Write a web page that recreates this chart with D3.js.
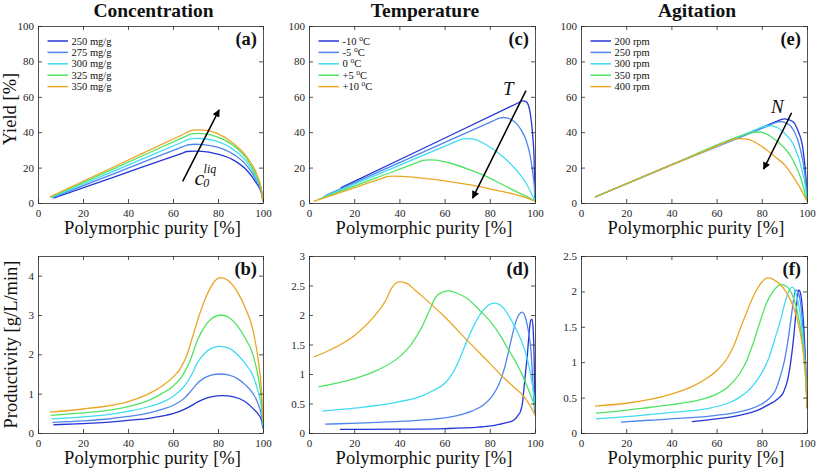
<!DOCTYPE html>
<html><head><meta charset="utf-8">
<script src="https://cdn.jsdelivr.net/npm/d3@7"></script>
<style>
body{margin:0;background:#fff}
svg{display:block}
text{font-family:"Liberation Serif","Times New Roman",serif;}
</style>
</head><body>
<svg id="chart" width="817" height="475"></svg>
<script>
// ---------- categories / labels ----------
const panelTitles = ["Concentration", "Temperature", "Agitation"];
const panelLetters = ["(a)", "(b)", "(c)", "(d)", "(e)", "(f)"];
const concLabels = ["250 mg/g", "275 mg/g", "300 mg/g", "325 mg/g", "350 mg/g"];
const tempLabels = ["-10", "-5", "0", "+5", "+10"];
const agitLabels = ["200 rpm", "250 rpm", "300 rpm", "350 rpm", "400 rpm"];
const seriesColors = ["#2436d6", "#4f86ec", "#3fdcf2", "#4fe462", "#eaa624"];

// ---------- tick labels ----------
const xTicks = [0, 20, 40, 60, 80, 100];
const yieldTicks = [0, 20, 40, 60, 80, 100];
const prodTicksB = [0, 1, 2, 3, 4];
const prodTicksD = [0, 0.5, 1, 1.5, 2, 2.5, 3];
const prodTicksF = [0, 0.5, 1, 1.5, 2, 2.5];

// ---------- (a) yield vs purity, concentration ----------
const yieldC250 = [[6.9,2.8],[35,15.2],[64,28.1],[66.3,29.1],[69.5,29.35],[73,29.2],[79.3,27.8],[86.7,24.4],[92.6,18.8],[97,11.3],[99.3,5.6],[100,1]];
const yieldC275 = [[6.4,3.0],[35,17.2],[64.5,31.8],[66.8,32.9],[70,33.2],[73.5,33.0],[79.3,31.7],[86.7,27.6],[92.6,21.4],[97,12.9],[99.3,6.3],[100,1]];
const yieldC300 = [[6.0,3.1],[35,18.7],[65,34.9],[67.2,36.1],[70.5,36.5],[74,36.3],[79.3,34.9],[86.7,30.3],[92.6,23.5],[97,14.2],[99.3,6.9],[100,1]];
const yieldC325 = [[5.6,3.3],[35,20.1],[65.5,37.6],[67.8,38.9],[71,39.3],[74.5,39.1],[79.3,37.5],[86.7,32.6],[92.6,25.3],[97,15.3],[99.3,7.4],[100,1]];
const yieldC350 = [[5.2,3.4],[35,21.2],[66,39.7],[68.2,41.0],[71.5,41.3],[75,41.0],[79.3,39.5],[86.7,33.8],[92.6,26.3],[97,16.9],[99.3,7.5],[100,1]];

// ---------- (b) productivity, concentration ----------
const prodC250 = [[6.9,0.21],[20,0.24],[30,0.27],[40,0.32],[50,0.38],[55,0.43],[60,0.49],[65,0.6],[68,0.69],[71,0.79],[74,0.87],[77,0.92],[82,0.95],[87,0.92],[92,0.8],[95.6,0.62],[98,0.47],[99.3,0.33],[100,0.12]];
const prodC275 = [[6.4,0.27],[20,0.31],[30,0.35],[40,0.42],[50,0.52],[55,0.6],[60,0.7],[65,0.88],[68,1.07],[71,1.27],[74,1.4],[77,1.47],[81,1.5],[85,1.47],[89,1.37],[92,1.23],[95.6,1.0],[98,0.72],[99.3,0.45],[100,0.15]];
const prodC300 = [[6.0,0.36],[20,0.41],[30,0.46],[40,0.55],[50,0.68],[55,0.78],[60,0.93],[65,1.19],[68,1.45],[71,1.8],[74,2.02],[77,2.15],[81,2.2],[85,2.15],[89,1.97],[92,1.77],[95.6,1.45],[98,1.02],[99.3,0.65],[100,0.2]];
const prodC325 = [[5.6,0.45],[20,0.51],[30,0.57],[40,0.67],[50,0.85],[55,1.0],[60,1.19],[65,1.53],[68,1.9],[71,2.38],[74,2.7],[77,2.9],[81.5,3.0],[85,2.93],[89,2.7],[92,2.42],[95.6,1.98],[98,1.38],[99.3,0.85],[100,0.25]];
const prodC350 = [[5.2,0.53],[20,0.61],[30,0.68],[40,0.8],[50,1.02],[55,1.19],[60,1.42],[63,1.62],[66,1.95],[69,2.5],[72,3.05],[75,3.5],[78,3.82],[81,3.95],[85,3.85],[89,3.55],[92,3.2],[95.6,2.6],[98,1.8],[99.3,1.1],[100,0.3]];

// ---------- (c) yield, temperature ----------
const yieldTm10 = [[14,8.5],[50,30.5],[92,56.2],[94.5,57.7],[96,57.3],[97,55.5],[98,50],[99,38],[99.6,25],[100,3]];
const yieldTm5  = [[7,4.0],[45,25.6],[81,46.1],[84.2,47.9],[86,48.3],[88,48],[91.6,45.1],[94,41],[96,35.7],[98.2,24.4],[99.2,15],[99.7,9.4],[100,1.5]];
const yieldT0   = [[6,3.2],[40,21.3],[65,34.7],[67.7,36.1],[70.3,36.4],[73,36.1],[78.4,32.9],[85.7,26.3],[91.6,18.8],[96,11.3],[99,3.8],[100,1]];
const yieldTp5  = [[4,1.9],[30,14.3],[48,22.9],[50.4,24.1],[53,24.4],[56,24.2],[62.2,22.6],[71,18.8],[78.4,15],[85.7,10.3],[93.1,5.6],[97,3.2],[100,1]];
const yieldTp10 = [[2,0.9],[20,8.6],[33,14.2],[34.9,15],[37.5,15.2],[41,15.0],[50,14.0],[60,12.5],[70,10.5],[80,8.0],[90,5.2],[96,3.0],[100,1]];

// ---------- (d) productivity, temperature ----------
const prodTm10 = [[13.7,0.06],[40,0.065],[60,0.075],[75,0.1],[82,0.13],[87,0.17],[90.7,0.22],[92.5,0.3],[93.7,0.38],[94.5,0.52],[95.1,0.75],[95.8,1.02],[96.6,1.31],[97.3,1.65],[98.1,1.91],[98.7,1.93],[99.2,1.75],[99.6,1.3],[100,0.45]];
const prodTm5  = [[7.1,0.15],[25,0.17],[42,0.2],[55,0.235],[65,0.29],[72,0.37],[77,0.47],[81,0.62],[84,0.82],[86.5,1.1],[89,1.5],[91,1.82],[92.8,2.0],[94.3,2.05],[95.8,1.95],[97.2,1.7],[98.2,1.4],[99,0.9],[99.6,0.5],[100,0.3]];
const prodT0   = [[5.9,0.37],[20,0.42],[40,0.53],[50,0.63],[55,0.72],[60,0.84],[63,0.98],[66,1.2],[70,1.57],[74,1.9],[78,2.12],[82,2.2],[86,2.12],[90,1.88],[93,1.65],[95.5,1.4],[97.5,1.1],[99,0.78],[100,0.5]];
const prodTp5  = [[4.1,0.78],[20,0.92],[30,1.06],[40,1.29],[45,1.49],[50,1.8],[53,2.05],[56,2.3],[60,2.4],[62,2.41],[66,2.36],[70,2.28],[76,2.06],[80,1.9],[85,1.63],[88,1.43],[92,1.17],[95,0.93],[98,0.65],[100,0.45]];
const prodTp10 = [[2.2,1.29],[10,1.42],[20,1.65],[30,2.03],[34,2.25],[36.5,2.45],[40,2.56],[43,2.54],[47,2.42],[50,2.32],[60,1.97],[70,1.57],[80,1.18],[85,0.98],[90,0.8],[95,0.62],[98,0.45],[100,0.3]];

// ---------- (e) yield, agitation ----------
const yieldN200 = [[6.2,3.4],[40,21.5],[86,45.8],[88.5,47.1],[90,47.5],[91.5,47.3],[93,46.5],[94.4,45.1],[95.8,41.5],[97,37.5],[97.9,33],[98.8,24.4],[99.3,18],[99.7,11],[100,2]];
const yieldN250 = [[6.2,3.4],[40,21.5],[82,43.2],[85.5,45.1],[87.5,45.9],[89,46],[91,45],[92.9,43.2],[94.5,40],[95.9,35.7],[97.1,30],[98.1,24.4],[99,17],[99.6,9.4],[100,2]];
const yieldN300 = [[6.2,3.4],[40,21.5],[77,41.2],[80,42.8],[82.5,43.5],[84.5,43.6],[87,42.5],[89.3,40.4],[91.5,37.5],[93.7,33.8],[95.3,29],[96.6,24.4],[97.8,18.5],[98.8,13.2],[99.5,7.5],[100,1.5]];
const yieldN350 = [[6.2,3.4],[40,21.5],[70,37.6],[74,39.2],[76.5,39.9],[79,40.1],[82,39.1],[84.9,36.7],[88,33.6],[90.7,30.1],[93,26],[95.1,20.7],[97,15],[98.1,10.3],[99.6,2.8],[100,1]];
const yieldN400 = [[6.2,3.4],[40,21.5],[65,34.8],[67.2,36],[70.5,36.4],[74,35.9],[78,33.6],[82,30.1],[86,26],[90.7,20.7],[94,14.6],[96.6,9.4],[98.5,4.8],[100,1]];

// ---------- (f) productivity, agitation ----------
const prodN200 = [[49,0.16],[60,0.2],[70,0.25],[78,0.32],[83,0.4],[87,0.48],[89.5,0.57],[91.5,0.76],[93,1.05],[94.2,1.38],[95.1,1.7],[95.8,1.92],[96.4,2.02],[97.1,1.98],[98,1.75],[99,1.25],[99.6,0.8],[100,0.35]];
const prodN250 = [[17.7,0.155],[30,0.18],[45,0.21],[60,0.25],[70,0.3],[75,0.34],[80,0.41],[83,0.48],[86,0.6],[88,0.78],[90,1.02],[91.8,1.35],[93.2,1.68],[94.4,1.95],[95.2,2.02],[96.2,1.98],[97.3,1.8],[98.5,1.35],[99.5,0.8],[100,0.45]];
const prodN300 = [[6.6,0.2],[20,0.23],[40,0.29],[55,0.34],[65,0.42],[70,0.5],[75,0.63],[80,0.85],[83,1.05],[86,1.35],[88.5,1.62],[90.5,1.87],[92.5,2.04],[93.5,2.06],[95,1.98],[96.5,1.78],[98,1.4],[99.3,0.9],[100,0.45]];
const prodN350 = [[6.6,0.28],[20,0.32],[30,0.36],[40,0.4],[50,0.45],[55,0.49],[60,0.55],[65,0.65],[70,0.83],[73,1.0],[76,1.25],[79,1.55],[82,1.83],[85,2.0],[88.5,2.1],[91,2.07],[93.5,1.95],[95.5,1.75],[97.5,1.4],[99,0.95],[100,0.45]];
const prodN400 = [[6.2,0.38],[20,0.42],[30,0.47],[40,0.55],[50,0.67],[55,0.76],[60,0.88],[65,1.07],[68,1.26],[71,1.52],[74,1.76],[77,1.98],[80,2.13],[82.5,2.19],[85,2.17],[88,2.1],[91,1.98],[94,1.78],[96.5,1.5],[98.5,1.1],[99.5,0.75],[100,0.35]];

// ---------- annotations (data coords) ----------
const arrowA = [[64.3, 12.2], [80.5, 52.6]];
const arrowC = [[96, 63.5], [72.4, 2.8]];
const arrowE = [[93.2, 51], [80.8, 19.1]];

// ---------- layout ----------
const svg = d3.select("#chart");
const cols = [[38, 263], [309, 535], [581, 807]];
const rows = [[26, 203], [256, 433]];
const serif = '"Liberation Serif","Times New Roman",serif';
const ink = "#262626";

const defs = svg.append("defs");
defs.append("marker").attr("id", "ah").attr("viewBox", "0 0 10 10")
  .attr("refX", 9).attr("refY", 5).attr("markerWidth", 11).attr("markerHeight", 7.5)
  .attr("markerUnits", "userSpaceOnUse").attr("orient", "auto")
  .append("path").attr("d", "M0,0 L10,5 L0,10 Z").attr("fill", "#000");

const panels = [
  {col:0,row:0,letter:panelLetters[0],dom:[0,100],ticks:yieldTicks,series:[yieldC250,yieldC275,yieldC300,yieldC325,yieldC350],legend:concLabels,legendType:"plain",arrow:arrowA},
  {col:0,row:1,letter:panelLetters[1],dom:[0,4.5],ticks:prodTicksB,series:[prodC250,prodC275,prodC300,prodC325,prodC350]},
  {col:1,row:0,letter:panelLetters[2],dom:[0,100],ticks:yieldTicks,series:[yieldTm10,yieldTm5,yieldT0,yieldTp5,yieldTp10],legend:tempLabels,legendType:"temp",arrow:arrowC},
  {col:1,row:1,letter:panelLetters[3],dom:[0,3],ticks:prodTicksD,series:[prodTm10,prodTm5,prodT0,prodTp5,prodTp10]},
  {col:2,row:0,letter:panelLetters[4],dom:[0,100],ticks:yieldTicks,series:[yieldN200,yieldN250,yieldN300,yieldN350,yieldN400],legend:agitLabels,legendType:"plain",arrow:arrowE},
  {col:2,row:1,letter:panelLetters[5],dom:[0,2.5],ticks:prodTicksF,series:[prodN200,prodN250,prodN300,prodN350,prodN400]}
];

const scales = {};
panels.forEach((p, pi) => {
  const [x0, x1] = cols[p.col], [y0, y1] = rows[p.row];
  const x = d3.scaleLinear().domain([0, 100]).range([x0, x1]);
  const y = d3.scaleLinear().domain(p.dom).range([y1, y0]);
  scales[p.letter] = {x, y};
  const g = svg.append("g");

  const line = d3.line().x(d => x(d[0])).y(d => y(d[1])).curve(d3.curveMonotoneX);
  p.series.forEach((s, i) => {
    g.append("path").datum(s).attr("d", line).attr("fill", "none")
      .attr("stroke", seriesColors[i]).attr("stroke-width", 1.3)
      .attr("stroke-linejoin", "round");
  });

  const fmt = d => String(d);
  const ax = [
    g.append("g").attr("transform", `translate(0,${y1})`).call(d3.axisBottom(x).tickValues(xTicks).tickSize(-4).tickSizeOuter(0).tickPadding(6).tickFormat(fmt)),
    g.append("g").attr("transform", `translate(${x0},0)`).call(d3.axisLeft(y).tickValues(p.ticks).tickSize(-4).tickSizeOuter(0).tickPadding(4).tickFormat(fmt)),
    g.append("g").attr("transform", `translate(0,${y0})`).call(d3.axisTop(x).tickValues(xTicks).tickSize(-4).tickSizeOuter(0).tickFormat("")),
    g.append("g").attr("transform", `translate(${x1},0)`).call(d3.axisRight(y).tickValues(p.ticks).tickSize(-4).tickSizeOuter(0).tickFormat(""))
  ];
  ax.forEach(a => {
    a.attr("font-family", serif).attr("font-size", 11).attr("color", ink);
    a.selectAll("path,line").attr("stroke-width", 0.8);
  });

  // panel letter
  g.append("text").attr("x", x1 - 6).attr("y", y0 + 19).attr("text-anchor", "end")
    .attr("font-weight", "bold").attr("font-size", 18.5).attr("fill", "#111").text(p.letter);

  // x-axis label
  g.append("text").attr("x", (x0 + x1) / 2 + 2).attr("y", y1 + 31).attr("text-anchor", "middle")
    .attr("font-size", 18.5).attr("fill", "#111").text("Polymorphic purity [%]");

  // legend
  if (p.legend) {
    const lg = g.append("g");
    p.legend.forEach((lab, i) => {
      const ly = y0 + 15 + i * 11.4;
      lg.append("line").attr("x1", x0 + 9.5).attr("x2", x0 + 30).attr("y1", ly).attr("y2", ly)
        .attr("stroke", seriesColors[i]).attr("stroke-width", 1.5);
      const t = lg.append("text").attr("x", x0 + 33.5).attr("y", ly + 3.6).attr("font-size", 10.5).attr("fill", "#111");
      if (p.legendType === "temp") {
        t.append("tspan").text(lab + " ");
        t.append("tspan").attr("font-size", 7.5).attr("dy", -4).text("o");
        t.append("tspan").attr("dy", 4).text("C");
      } else {
        t.text(lab);
      }
    });
  }

  // arrow
  if (p.arrow) {
    g.append("line").attr("x1", x(p.arrow[0][0])).attr("y1", y(p.arrow[0][1]))
      .attr("x2", x(p.arrow[1][0])).attr("y2", y(p.arrow[1][1]))
      .attr("stroke", "#000").attr("stroke-width", 1.5).attr("marker-end", "url(#ah)");
  }
});

// arrow labels
{
  const s = scales["(a)"];
  svg.append("text").attr("x", s.x(69.6)).attr("y", s.y(10.2)).attr("font-size", 22).attr("font-style", "italic").attr("fill", "#111").text("c");
  svg.append("text").attr("x", s.x(73.4)).attr("y", s.y(9.0)).attr("font-size", 12).attr("font-style", "italic").attr("fill", "#111").text("0");
  svg.append("text").attr("x", s.x(73.6)).attr("y", s.y(17.2)).attr("font-size", 12).attr("font-style", "italic").attr("fill", "#111").text("liq");
  const c = scales["(c)"];
  svg.append("text").attr("x", c.x(85.8)).attr("y", c.y(61)).attr("font-size", 19).attr("font-style", "italic").attr("fill", "#111").text("T");
  const e = scales["(e)"];
  svg.append("text").attr("x", e.x(84.1)).attr("y", e.y(51)).attr("font-size", 19).attr("font-style", "italic").attr("fill", "#111").text("N");
}

// column titles
panelTitles.forEach((t, i) => {
  svg.append("text").attr("x", (cols[i][0] + cols[i][1]) / 2 + 3).attr("y", 16.5)
    .attr("text-anchor", "middle").attr("font-weight", "bold").attr("font-size", 19.5)
    .attr("fill", "#111").text(t);
});

// y-axis labels
svg.append("text").attr("transform", `translate(16,${109}) rotate(-90)`).attr("text-anchor", "middle")
  .attr("font-size", 18.5).attr("fill", "#111").text("Yield [%]");
svg.append("text").attr("transform", `translate(17,${(rows[1][0] + rows[1][1]) / 2}) rotate(-90)`).attr("text-anchor", "middle")
  .attr("font-size", 18.5).attr("fill", "#111").text("Productivity [g/L/min]");
</script>
</body></html>
